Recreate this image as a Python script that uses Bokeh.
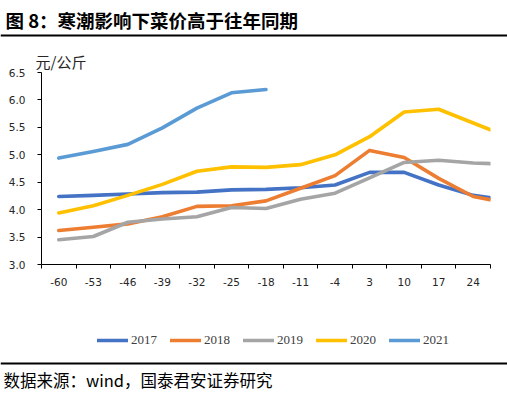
from bokeh.plotting import figure
from bokeh.layouts import column
from bokeh.models import (Range1d, FixedTicker, PrintfTickFormatter, Legend, LegendItem, Title,
                          Label, Span)
from bokeh.embed import file_html
from bokeh.resources import INLINE

# ---- data ----
days = [-60, -53, -46, -39, -32, -25, -18, -11, -4, 3, 10, 17, 24, 31]
tick_labels = ["-60", "-53", "-46", "-39", "-32", "-25", "-18", "-11", "-4", "3", "10", "17", "24"]
y2017 = [4.24, 4.26, 4.285, 4.31, 4.32, 4.36, 4.37, 4.40, 4.45, 4.68, 4.68, 4.45, 4.26, 4.17]
y2018 = [3.62, 3.68, 3.74, 3.87, 4.06, 4.07, 4.16, 4.39, 4.62, 5.08, 4.95, 4.57, 4.24, 4.12]
y2019 = [3.45, 3.51, 3.77, 3.83, 3.87, 4.04, 4.02, 4.19, 4.30, 4.58, 4.86, 4.90, 4.85, 4.83]
y2020 = [3.94, 4.07, 4.26, 4.46, 4.70, 4.78, 4.77, 4.82, 5.00, 5.33, 5.78, 5.83, 5.58, 5.33]
days2021 = [-60, -53, -46, -39, -32, -25, -18]
y2021 = [4.94, 5.06, 5.19, 5.49, 5.85, 6.13, 6.19]
series_names = ["2017", "2018", "2019", "2020", "2021"]
colors = ["#4472C4", "#ED7D31", "#A5A5A5", "#FFC000", "#5B9BD5"]

title_text = "图 8：寒潮影响下菜价高于往年同期"
unit_text = "元/公斤"
source_text = "数据来源：wind，国泰君安证券研究"

W = 507
H_TOP, H_MAIN, H_BOT = 45, 255, 99
XOFF = 100  # page-x to data-x shift for the footer (keeps series data out of its view)


def bare_figure(h, x0):
    f = figure(width=W, height=h, output_backend="svg", toolbar_location=None,
               x_axis_type=None, y_axis_type=None, frame_align=False,
               x_range=Range1d(x0, x0 + W), y_range=Range1d(h, 0),
               min_border=0, min_border_left=0, min_border_right=0,
               min_border_top=0, min_border_bottom=0)
    f.outline_line_color = None
    f.background_fill_color = "white"
    f.border_fill_color = "white"
    return f


# ---- header: title + rule ----
p_top = bare_figure(H_TOP, 0)
p_top.add_layout(Label(x=5, y=19.5, text=title_text, text_font="Noto Sans CJK SC",
                       text_font_style="bold", text_font_size="18.5px",
                       text_baseline="middle", text_color="black"))
p_top.add_layout(Span(location=35, dimension="width", line_color="black", line_width=2))

# ---- main chart ----
p = figure(width=W, height=H_MAIN, output_backend="svg", toolbar_location=None, title=None,
           frame_align=False,
           x_range=Range1d(-63.5, 27.5), y_range=Range1d(3.0, 6.5),
           min_border_left=41, min_border_right=17, min_border_top=27, min_border_bottom=36)
p.outline_line_color = None
p.xgrid.grid_line_color = None
p.ygrid.grid_line_color = None
p.background_fill_color = "white"
p.border_fill_color = "white"

xs_all = [days, days, days, days, days2021]
ys_all = [y2017, y2018, y2019, y2020, y2021]
for xs, ys, c in zip(xs_all, ys_all, colors):
    p.line(xs, ys, line_color=c, line_width=3.6, line_cap="round", line_join="round")

bounds = [d - 3.5 for d in days]
xa = p.xaxis[0]
xa.ticker = FixedTicker(ticks=days[:13], minor_ticks=bounds)
xa.major_label_overrides = {d: lab for d, lab in zip(days[:13], tick_labels)}
xa.major_tick_out = 0
xa.major_tick_in = 0
xa.minor_tick_out = 4
xa.minor_tick_in = 0
xa.minor_tick_line_color = "black"
xa.axis_line_color = "black"
xa.major_label_standoff = 9
xa.major_label_text_font = "DejaVu Sans"
xa.major_label_text_font_size = "10.5px"
xa.major_label_text_color = "#262626"

ya = p.yaxis[0]
ya.ticker = FixedTicker(ticks=[3.0, 3.5, 4.0, 4.5, 5.0, 5.5, 6.0, 6.5], minor_ticks=[])
ya.formatter = PrintfTickFormatter(format="%.1f")
ya.major_tick_out = 4
ya.major_tick_in = 0
ya.minor_tick_out = 0
ya.minor_tick_in = 0
ya.major_tick_line_color = "black"
ya.axis_line_color = "black"
ya.major_label_standoff = 12
ya.major_label_text_font = "DejaVu Sans"
ya.major_label_text_font_size = "10.5px"
ya.major_label_text_color = "#262626"

p.add_layout(Title(text=unit_text, align="left", offset=-6, standoff=2,
                   text_font="Noto Sans CJK SC", text_font_size="15px",
                   text_font_style="normal", text_color="#262626"), "above")

# ---- footer: legend, rule, source ----
p_bot = bare_figure(H_BOT, XOFF)
# legend swatches: same series, drawn in the footer (their data lies outside its view)
leg_renderers = [p_bot.line(xs, ys, line_color=c, line_width=3.6, line_cap="round")
                 for xs, ys, c in zip(xs_all, ys_all, colors)]
legend = Legend(items=[LegendItem(label=n, renderers=[r]) for n, r in zip(series_names, leg_renderers)],
                orientation="horizontal", location=(97, 51),
                glyph_width=31, glyph_height=14, label_height=14, label_standoff=3, spacing=13,
                padding=0, margin=0, border_line_color=None, background_fill_alpha=0,
                label_text_font="Liberation Serif", label_text_font_size="13px",
                label_text_color="#404040")
p_bot.add_layout(legend, "center")
p_bot.add_layout(Span(location=63, dimension="width", line_color="black", line_width=2))
p_bot.add_layout(Label(x=XOFF + 3, y=79, text=source_text, text_font="Noto Sans CJK SC",
                       text_font_size="16.5px", text_baseline="middle", text_color="black"))

layout = column(p_top, p, p_bot, spacing=0)
open("out.html", "w").write(file_html(layout, INLINE))
